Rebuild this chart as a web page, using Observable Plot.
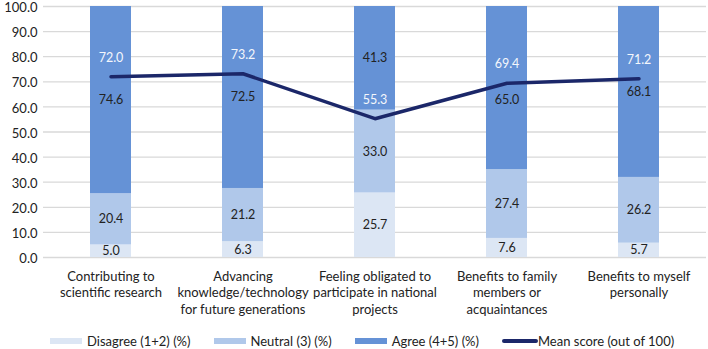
<!DOCTYPE html>
<html>
<head>
<meta charset="utf-8">
<script src="https://cdn.jsdelivr.net/npm/d3@7"></script>
<script src="https://cdn.jsdelivr.net/npm/@observablehq/plot@0.6"></script>
<style>
  html, body { margin: 0; padding: 0; background: #fff; }
  body { width: 708px; height: 349px; overflow: hidden; position: relative; font-family: Lato, "Open Sans", sans-serif; }
  #legend { position: absolute; left: 50px; top: 333px; height: 16px; display: flex; align-items: center; font-size: 13px; color: #222; white-space: nowrap; }
  .item { display: flex; align-items: center; margin-right: 23px; }
  .sw { width: 32px; height: 6px; margin-right: 5px; }
  .ln { width: 36px; height: 4px; margin-right: 0px; border-radius: 2px; background: #1b2769; }
</style>
</head>
<body>
<div id="chart"></div>
<div id="legend"></div>
<script>
const categories = [
  "Contributing to\nscientific research",
  "Advancing\nknowledge/technology\nfor future generations",
  "Feeling obligated to\nparticipate in national\nprojects",
  "Benefits to family\nmembers or\nacquaintances",
  "Benefits to myself\npersonally"
];
const seriesNames = ["Disagree (1+2) (%)", "Neutral (3) (%)", "Agree (4+5) (%)"];
const disagree = [5.0, 6.3, 25.7, 7.6, 5.7];
const neutral = [20.4, 21.2, 33.0, 27.4, 26.2];
const agree = [74.6, 72.5, 41.3, 65.0, 68.1];
const meanScore = [72.0, 73.2, 55.3, 69.4, 71.2];
const meanName = "Mean score (out of 100)";
const yTicks = [0, 10, 20, 30, 40, 50, 60, 70, 80, 90, 100];
const colors = ["#dce6f4", "#b0c8ea", "#6592d6"];
const lineColor = "#1b2769";

const seriesValues = [disagree, neutral, agree];
const stacked = [];
seriesNames.forEach((s, si) => {
  categories.forEach((c, ci) => stacked.push({cat: c, series: s, value: seriesValues[si][ci], nudged: si === 2 && ci === 3}));
});
const means = categories.map((c, i) => ({cat: c, value: meanScore[i]}));

const stackOpts = {x: "cat", y: "value", z: "series", order: seriesNames};
const chart = Plot.plot({
  width: 708,
  height: 322,
  marginTop: 6,
  marginBottom: 65,
  marginLeft: 43,
  marginRight: 2,
  style: {fontFamily: "Lato, 'Open Sans', sans-serif", fontSize: "13px", color: "#222", background: "#fff"},
  x: {domain: categories, paddingInner: 0.69, paddingOuter: 0.345, axis: null, label: null},
  y: {domain: [0, 100], axis: null, label: null},
  color: {domain: seriesNames, range: colors},
  marks: [
    Plot.gridY(yTicks, {stroke: "#d9d9d9", strokeOpacity: 1, strokeWidth: 1.3}),
    Plot.axisY(yTicks, {tickSize: 0, tickPadding: 6, tickFormat: d => d.toFixed(1), fill: "#222", fontSize: 13, dy: 1.5, label: null}),
    Plot.axisX({tickSize: 0, tickPadding: 12, lineHeight: 1.25, fill: "#222", fontSize: 13, label: null}),
    Plot.barY(stacked, {x: "cat", y: "value", fill: "series", z: "series", order: seriesNames}),
    Plot.text(stacked, Plot.stackY({...stackOpts, text: d => d.nudged ? null : d.value.toFixed(1), fill: "#222", fontSize: 12.5})),
    Plot.text(stacked, Plot.stackY({...stackOpts, text: d => d.nudged ? d.value.toFixed(1) : null, fill: "#222", fontSize: 12.5, dy: 11.5})),
    Plot.line(means, {x: "cat", y: "value", stroke: lineColor, strokeWidth: 3.5}),
    Plot.text(means, {x: "cat", y: "value", text: d => d.value.toFixed(1), dy: -19, fill: "#f4f7fc", fontSize: 12.5})
  ]
});
document.getElementById("chart").appendChild(chart);

const legend = document.getElementById("legend");
seriesNames.forEach((s, i) => {
  const it = document.createElement("div"); it.className = "item";
  it.innerHTML = `<span class="sw" style="background:${colors[i]}"></span><span>${s}</span>`;
  legend.appendChild(it);
});
const it = document.createElement("div"); it.className = "item";
it.innerHTML = `<span class="ln"></span><span>${meanName}</span>`;
legend.appendChild(it);
</script>
</body>
</html>
